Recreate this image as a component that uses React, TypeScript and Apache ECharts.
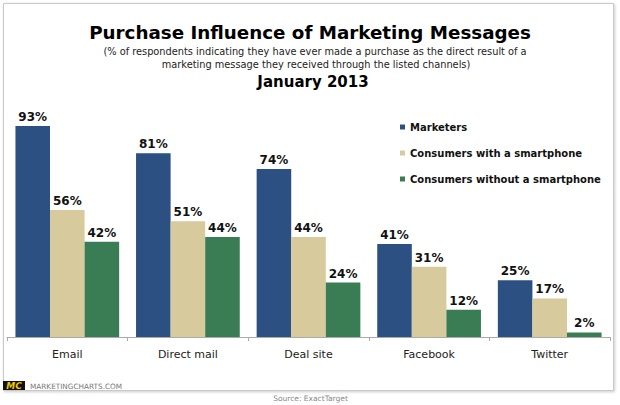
import React, { useEffect, useRef } from "react";
import * as echarts from "echarts";

const categories = ["Email", "Direct mail", "Deal site", "Facebook", "Twitter"];
const seriesNames = ["Marketers", "Consumers with a smartphone", "Consumers without a smartphone"];
const marketers = [93, 81, 74, 41, 25];
const withSmartphone = [56, 51, 44, 31, 17];
const withoutSmartphone = [42, 44, 24, 12, 2];
const colors = ["#2D5083", "#D7CA9C", "#3A7D55"];

const titleText = "Purchase Influence of Marketing Messages";
const subtitleLines = [
  "(% of respondents indicating they have ever made a purchase as the direct result of a",
  "marketing message they received through the listed channels)",
];
const dateText = "January 2013";
const sourceText = "Source: ExactTarget";
const brandText = "MARKETINGCHARTS.COM";

const FONT = "'DejaVu Sans', Verdana, sans-serif";

export default function App() {
  const ref = useRef<HTMLDivElement>(null);
  useEffect(() => {
    if (!ref.current) return;
    const chart = echarts.init(ref.current, undefined, { renderer: "svg" });
    const values = [marketers, withSmartphone, withoutSmartphone];
    chart.setOption({
      animation: false,
      backgroundColor: "#ffffff",
      textStyle: { fontFamily: FONT },
      grid: { left: 7, right: 10, top: 110, bottom: 68, containLabel: false },
      legend: {
        orient: "vertical",
        left: 400,
        top: 121,
        padding: 0,
        itemWidth: 5,
        itemHeight: 5,
        itemGap: 14,
        icon: "rect",
        selectedMode: false,
        data: seriesNames,
        textStyle: { fontFamily: FONT, fontSize: 10, fontWeight: "bold", color: "#111", lineHeight: 12 },
      },
      xAxis: {
        type: "category",
        data: categories,
        axisLine: { show: true, lineStyle: { color: "#aaaaaa", width: 1 } },
        axisTick: { show: true, length: 4, lineStyle: { color: "#aaaaaa" } },
        axisLabel: { fontFamily: FONT, fontSize: 11, color: "#222", margin: 12 },
      },
      yAxis: {
        type: "value",
        min: 0,
        max: 100,
        show: false,
        splitLine: { show: false },
      },
      series: seriesNames.map((name, i) => ({
        name,
        type: "bar",
        data: values[i],
        barGap: "0%",
        barCategoryGap: "14%",
        itemStyle: { color: colors[i] },
        label: {
          show: true,
          position: "top",
          distance: 3,
          formatter: "{c}%",
          fontFamily: FONT,
          fontSize: 12,
          fontWeight: "bold",
          color: "#111",
        },
      })),
      graphic: [
        {
          type: "rect",
          z: -10,
          silent: true,
          shape: { x: 3.5, y: 3.5, width: 610, height: 387 },
          style: {
            fill: "#ffffff",
            stroke: "#c9c9c9",
            lineWidth: 1,
            shadowBlur: 3,
            shadowOffsetX: 1,
            shadowOffsetY: 1,
            shadowColor: "rgba(0,0,0,0.2)",
          },
        },
        {
          type: "text",
          x: 310,
          y: 32,
          style: {
            text: titleText,
            fontFamily: FONT,
            fontSize: 18.3,
            fontWeight: "bold",
            fill: "#000",
            textAlign: "center",
            textVerticalAlign: "middle",
          },
        },
        {
          type: "text",
          x: 315,
          y: 51,
          style: {
            text: subtitleLines[0],
            fontFamily: FONT,
            fontSize: 9.8,
            fill: "#222",
            textAlign: "center",
            textVerticalAlign: "middle",
          },
        },
        {
          type: "text",
          x: 316,
          y: 64,
          style: {
            text: subtitleLines[1],
            fontFamily: FONT,
            fontSize: 9.8,
            fill: "#222",
            textAlign: "center",
            textVerticalAlign: "middle",
          },
        },
        {
          type: "text",
          x: 313,
          y: 82,
          style: {
            text: dateText,
            fontFamily: FONT,
            fontSize: 15,
            fontWeight: "bold",
            fill: "#000",
            textAlign: "center",
            textVerticalAlign: "middle",
          },
        },
        {
          type: "rect",
          shape: { x: 3, y: 381, width: 22, height: 9 },
          style: { fill: "#111" },
        },
        {
          type: "text",
          x: 14,
          y: 385.5,
          style: {
            text: "MC",
            fontFamily: FONT,
            fontSize: 9,
            fontWeight: "bold",
            fontStyle: "italic",
            fill: "#f2c400",
            textAlign: "center",
            textVerticalAlign: "middle",
          },
        },
        {
          type: "text",
          x: 30,
          y: 386,
          style: {
            text: brandText,
            fontFamily: FONT,
            fontSize: 7.3,
            fill: "#777",
            textAlign: "left",
            textVerticalAlign: "middle",
          },
        },
        {
          type: "text",
          x: 310.5,
          y: 398,
          style: {
            text: sourceText,
            fontFamily: FONT,
            fontSize: 7.5,
            fill: "#888",
            textAlign: "center",
            textVerticalAlign: "middle",
          },
        },
      ],
    });
    return () => chart.dispose();
  }, []);
  return (
    <div
      ref={ref}
      style={{ position: "fixed", left: 0, top: 0, width: 620, height: 405 }}
    />
  );
}
